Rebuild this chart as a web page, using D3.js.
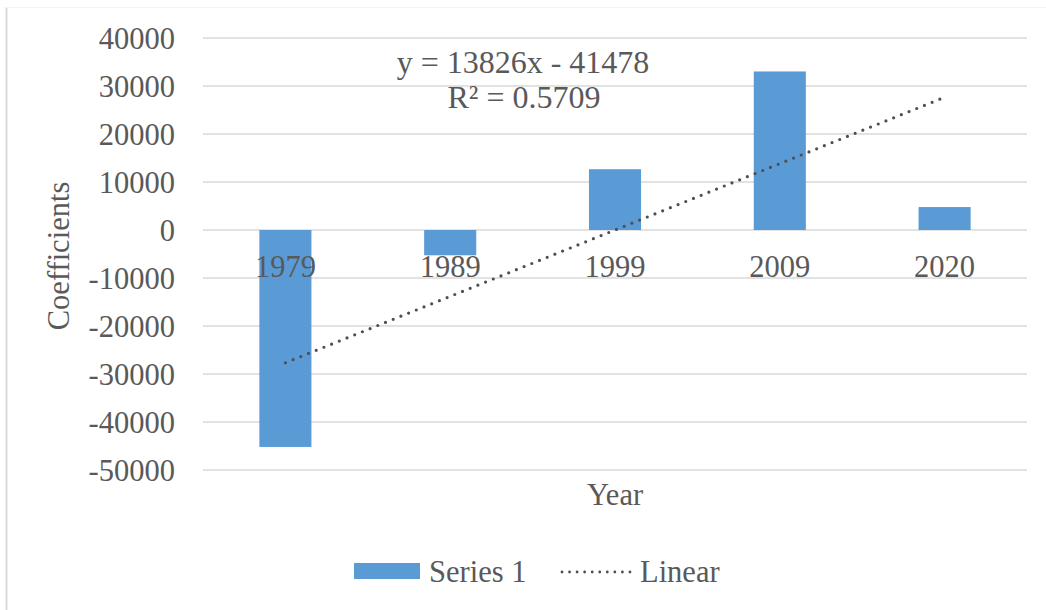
<!DOCTYPE html>
<html>
<head>
<meta charset="utf-8">
<script src="https://cdn.jsdelivr.net/npm/d3@7"></script>
</head>
<body style="margin:0">
<svg id="chart" width="1046" height="610" font-family="Liberation Serif"></svg>
<script>
// Regression coefficients by census year
const years = ["1979", "1989", "1999", "2009", "2020"];
const coefficients = [-45200, -5270, 12660, 33030, 4780];
const yTicks = [40000, 30000, 20000, 10000, 0, -10000, -20000, -30000, -40000, -50000];
// Linear trendline fitted over category index (1..5)
const trendSlope = [13826];
const trendIntercept = [-41478];
const trendR2 = ["0.5709"];

const FONT = "Liberation Serif";
const TEXT = "#595959";
const SIZE = 30.5;
const svg = d3.select("#chart");
const plot = { left: 203, right: 1027, top: 38, bottom: 470 };

const x = d3.scaleBand()
  .domain(years)
  .range([plot.left, plot.right])
  .paddingInner(0.684)
  .paddingOuter(0.342);

const y = d3.scaleLinear()
  .domain([-50000, 40000])
  .range([plot.bottom, plot.top]);

function label(sel, size = SIZE) {
  return sel.attr("font-family", FONT).attr("font-size", size).attr("fill", TEXT)
    .style("font-family", FONT);
}

// chart frame
svg.append("line").attr("x1", 6.5).attr("x2", 6.5).attr("y1", 7).attr("y2", 610)
  .attr("stroke", "#d9d9d9").attr("stroke-width", 2);
svg.append("line").attr("x1", 6).attr("x2", 1046).attr("y1", 7.5).attr("y2", 7.5)
  .attr("stroke", "#f4f4f4").attr("stroke-width", 1);

// gridlines
svg.append("g").selectAll("line").data(yTicks).join("line")
  .attr("x1", plot.left).attr("x2", plot.right)
  .attr("y1", d => y(d)).attr("y2", d => y(d))
  .attr("stroke", "#d9d9d9").attr("stroke-width", 1.5);

// y axis labels (plain hyphen for negatives)
const yAxis = d3.axisLeft(y).tickValues(yTicks).tickSize(0).tickPadding(0)
  .tickFormat(d => String(d));
const yg = svg.append("g").attr("transform", "translate(175,0)").call(yAxis)
  .attr("font-family", FONT).attr("font-size", SIZE);
yg.select(".domain").remove();
label(yg.selectAll("text")).attr("dy", "0.33em");

// bars
svg.append("g").selectAll("rect").data(coefficients).join("rect")
  .attr("x", (d, i) => x(years[i]))
  .attr("width", x.bandwidth())
  .attr("y", d => y(Math.max(0, d)))
  .attr("height", d => Math.abs(y(d) - y(0)))
  .attr("fill", "#5b9bd5");

// category labels along the zero line
const xAxis = d3.axisBottom(x).tickSize(0).tickPadding(0);
const xg = svg.append("g").attr("transform", `translate(0,${y(0)})`).call(xAxis)
  .attr("font-family", FONT).attr("font-size", SIZE);
xg.select(".domain").remove();
label(xg.selectAll("text")).attr("y", 0).attr("dy", "1.55em");

// trendline
const trendX = [1, years.length];
const trendPts = trendX.map(k => [x(years[k - 1]) + x.bandwidth() / 2,
                                   y(trendSlope[0] * k + trendIntercept[0])]);
svg.append("path")
  .attr("d", d3.line()(trendPts))
  .attr("stroke", "#4d4f55").attr("stroke-width", 3.2)
  .attr("stroke-linecap", "round").attr("stroke-dasharray", "0 8.3")
  .attr("fill", "none");

// trendline equation
const eq = `y = ${trendSlope[0]}x ${trendIntercept[0] < 0 ? "-" : "+"} ${Math.abs(trendIntercept[0])}`;
label(svg.append("text"), 32).attr("x", 523).attr("y", 73).attr("text-anchor", "middle").text(eq);
label(svg.append("text"), 32).attr("x", 524).attr("y", 108).attr("text-anchor", "middle").text(`R² = ${trendR2[0]}`);

// axis titles
label(svg.append("text")).attr("x", 615).attr("y", 505).attr("text-anchor", "middle").text("Year");
label(svg.append("text"))
  .attr("transform", `translate(69,${(plot.top + plot.bottom) / 2 + 2}) rotate(-90)`)
  .attr("text-anchor", "middle").text("Coefficients");

// legend
const lg = svg.append("g");
lg.append("rect").attr("x", 354).attr("y", 563).attr("width", 66).attr("height", 16).attr("fill", "#5b9bd5");
label(lg.append("text")).attr("x", 429).attr("y", 582).text("Series 1");
lg.append("path").attr("d", d3.line()([[562, 572], [630, 572]]))
  .attr("stroke", "#4d4f55").attr("stroke-width", 2.8)
  .attr("stroke-linecap", "round").attr("stroke-dasharray", "0 7.55").attr("fill", "none");
label(lg.append("text")).attr("x", 640).attr("y", 582).text("Linear");
</script>
</body>
</html>
